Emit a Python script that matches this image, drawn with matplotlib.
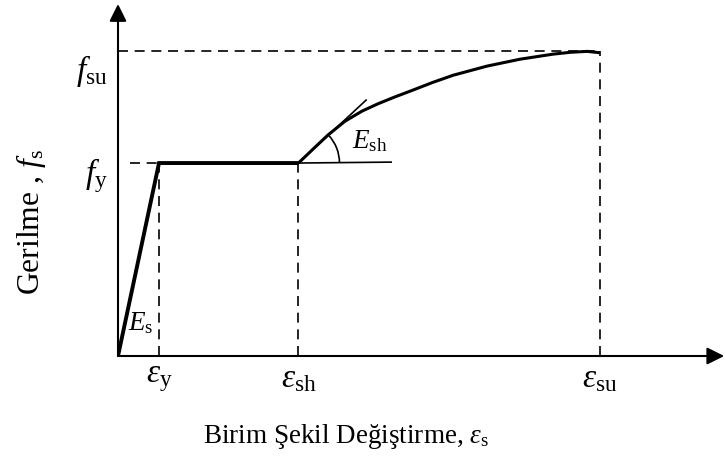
import numpy as np
import matplotlib
matplotlib.use("Agg")
import matplotlib.pyplot as plt
from matplotlib.patches import Arc

plt.rcParams['font.family'] = ['Liberation Serif', 'DejaVu Serif']
plt.rcParams['mathtext.fontset'] = 'custom'
plt.rcParams['mathtext.rm'] = 'Liberation Serif'
plt.rcParams['mathtext.it'] = 'Liberation Serif:italic'

# idealised steel stress-strain curve
eps_y = 0.002
eps_sh = 0.0088
eps_su = 0.0235
f_y = 420
f_su = 664

# strain hardening branch
hard_eps = [0.0088, 0.00955, 0.01024, 0.01107, 0.0119, 0.01268, 0.01351,
            0.01434, 0.01532, 0.01634, 0.018, 0.01961, 0.02122, 0.02205,
            0.02288, 0.0235]
hard_f = [420, 452, 481, 511, 533, 549, 564, 578, 595, 611, 631, 646,
          657, 661, 663, 660]

# tangent at start of hardening and the reference horizontal
tan_end = (0.0121, 557)
hor_end = (0.01332, 422)

x_max = 0.0296
y_max = 777

fig = plt.figure(figsize=(7.25, 4.77), dpi=100)
ax = fig.add_axes([118 / 725, 120 / 477, 607 / 725, 357 / 477])
ax.set_xlim(0, x_max)
ax.set_ylim(0, y_max)
for s in ax.spines.values():
    s.set_visible(False)

# axes with arrow heads
arr = dict(arrowstyle='-|>', mutation_scale=26, lw=1.5, color='k',
           shrinkA=0, shrinkB=0)
ax.annotate('', xy=(0, 766), xytext=(0, 0), arrowprops=arr, annotation_clip=False)
ax.annotate('', xy=(0.02956, 0), xytext=(0, 0), arrowprops=arr, annotation_clip=False)

# guide lines
dash = dict(color='k', lw=1.2, ls=(0, (6, 4)), clip_on=False)
ax.plot([0, eps_su], [f_su, f_su], **dash)
ax.plot([eps_su, eps_su], [0, f_su], **dash)
ax.plot([eps_sh, eps_sh], [0, f_y], **dash)
ax.plot([eps_y, eps_y], [0, f_y], **dash)
ax.plot([0.0006, eps_y], [f_y, f_y], **dash)

# elastic + yield plateau
ax.plot([0, eps_y, eps_sh], [0, f_y, f_y], color='k', lw=2.8,
        solid_joinstyle='miter', solid_capstyle='butt')
ax.plot(hard_eps, hard_f, color='k', lw=2.2, solid_capstyle='butt',
        solid_joinstyle='round')

# tangent, horizontal and angle arc
ax.plot([eps_sh, tan_end[0]], [f_y, tan_end[1]], color='k', lw=1.2)
ax.plot([eps_sh, hor_end[0]], [f_y, hor_end[1]], color='k', lw=1.2)
ang = np.degrees(np.arctan2(tan_end[1] - f_y, tan_end[0] - eps_sh))
ax.add_patch(Arc((eps_sh, f_y), 0.004, 178.4, theta1=0, theta2=ang,
                 color='k', lw=1.2))

fs = 19.5
sym = 24
ax.text(0.00049, 58, r'$E_{\mathrm{s}}$', fontsize=fs, ha='left', va='baseline')
ax.text(0.01141, 455, r'$E_{\mathrm{sh}}$', fontsize=fs, ha='left', va='baseline')

ax.set_xticks([eps_y, eps_sh, eps_su],
              [r'$\varepsilon_{\mathrm{y}}$', r'$\varepsilon_{\mathrm{sh}}$',
               r'$\varepsilon_{\mathrm{su}}$'])
ax.set_yticks([])
ax.tick_params(length=0, labelsize=sym)
ax.tick_params(axis='x', pad=5)

# stress levels written left of the axis
ax.text(-0.00049, 622, r'$f_{\mathrm{su}}$', fontsize=sym, ha='right', va='center')
ax.text(-0.00049, 396, r'$f_{\mathrm{y}}$', fontsize=sym, ha='right', va='center')

fig.text(346 / 725, 1 - 443 / 477, r'Birim Şekil Değiştirme, $\varepsilon_{\mathrm{s}}$',
         fontsize=fs, ha='center', va='baseline')
fig.text(31 / 725, 1 - 222 / 477, r'Gerilme , $f_{\mathrm{s}}$', fontsize=22.8,
         rotation=90, ha='center', va='center')

fig.savefig('out.png', dpi=100, facecolor='white')
